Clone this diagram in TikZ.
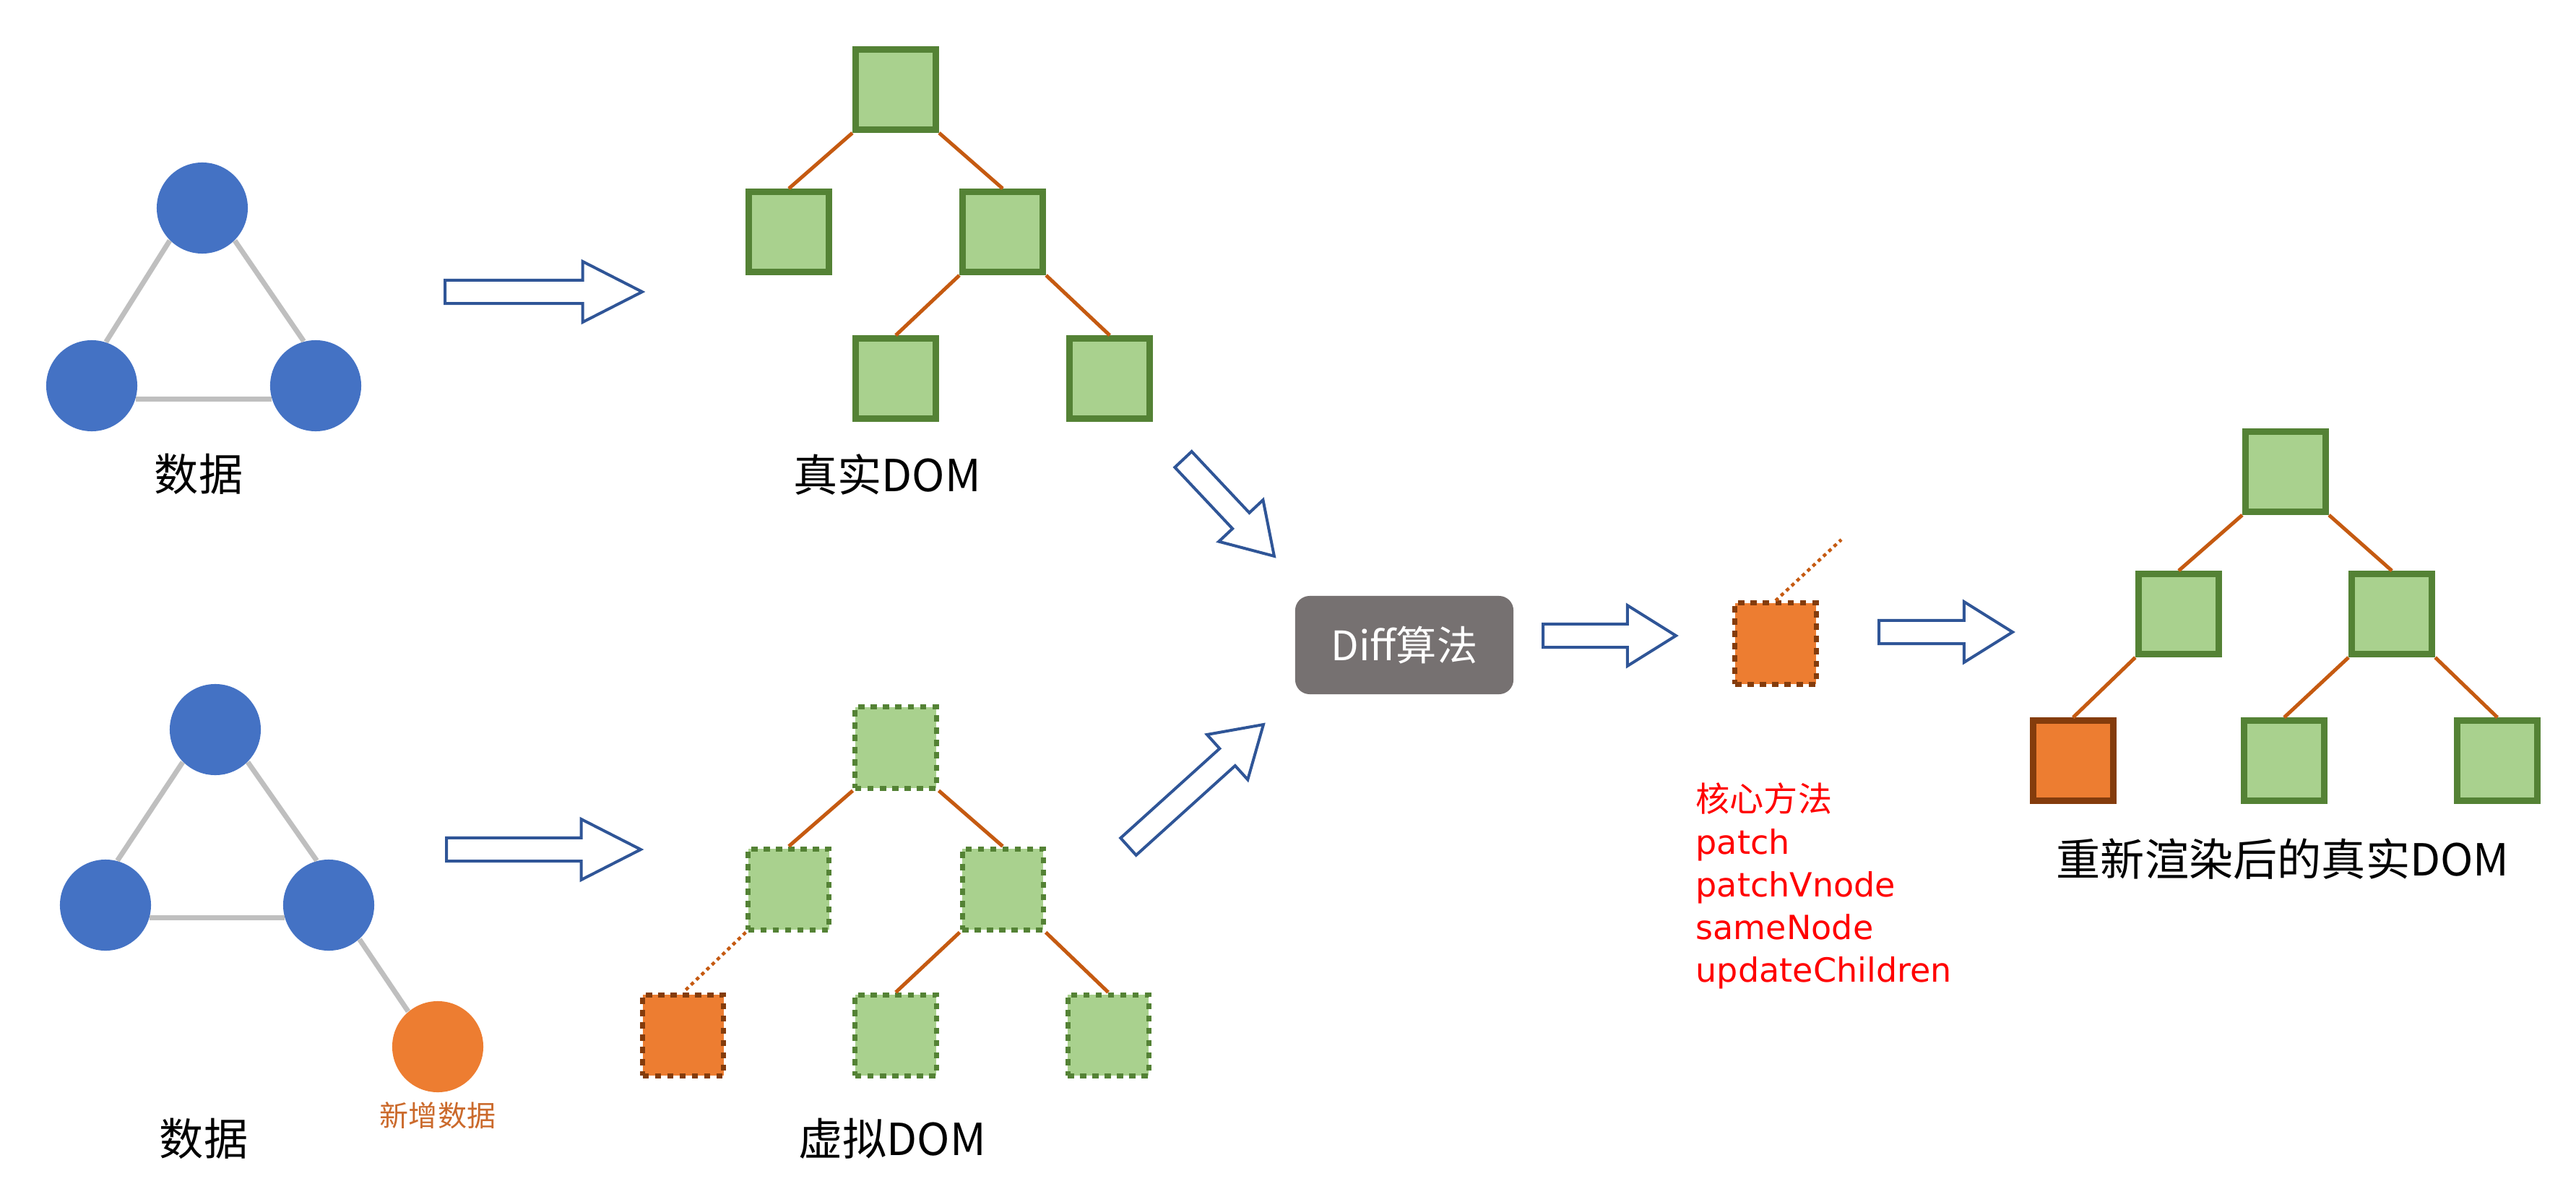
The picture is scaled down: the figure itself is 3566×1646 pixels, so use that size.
\documentclass[tikz,border=0pt]{standalone}
\usepackage{fontspec}
\setmainfont{Noto Sans CJK SC}
\newfontfamily\cjkfont{Noto Sans CJK SC}
\newfontfamily\methodfont{DejaVu Sans}
\usetikzlibrary{positioning,shapes.arrows,calc}

\definecolor{dotblue}{HTML}{4472C4}
\definecolor{neworange}{HTML}{ED7D31}
\definecolor{newtext}{HTML}{CB6A2C}
\definecolor{linkgray}{HTML}{BFBFBF}
\definecolor{sqgreen}{HTML}{548235}
\definecolor{sqfill}{HTML}{A9D18E}
\definecolor{newbrown}{HTML}{843C0C}
\definecolor{branchorange}{HTML}{C55A11}
\definecolor{arrowblue}{HTML}{2F5597}
\definecolor{diffgray}{HTML}{767171}
\definecolor{methodred}{HTML}{FF0000}

\begin{document}
\begin{tikzpicture}[
    x=0.01cm, y=-0.01cm,
    datadot/.style={circle, fill=dotblue, minimum size=1.26cm, inner sep=0pt},
    newdot/.style={datadot, fill=neworange},
    link/.style={draw=linkgray, line width=0.07cm},
    realsq/.style={rectangle, draw=sqgreen, fill=sqfill, line width=0.09cm,
                   minimum size=1.11cm, inner sep=0pt},
    realnew/.style={realsq, draw=newbrown, fill=neworange},
    vsq/.style={rectangle, draw=sqgreen, fill=sqfill, line width=0.07cm,
                dash pattern=on 0.085cm off 0.085cm, minimum size=1.12cm, inner sep=0pt},
    vnew/.style={vsq, draw=newbrown, fill=neworange},
    branch/.style={draw=branchorange, line width=0.05cm},
    newbranch/.style={branch, line width=0.045cm, dash pattern=on 0.05cm off 0.05cm},
    caption/.style={font=\fontsize{17.4}{20}\selectfont, inner sep=0pt},
    newcaption/.style={font=\fontsize{11.4}{13}\selectfont, text=newtext, inner sep=0pt},
    methods/.style={align=left, text=methodred, inner sep=0pt,
                    font=\methodfont\fontsize{13.1}{16.8}\selectfont},
    diffbox/.style={rectangle, rounded corners=0.2cm, fill=diffgray, text=white,
                    minimum width=3.02cm, minimum height=1.36cm,
                    font=\fontsize{16}{18}\selectfont},
    blockarr/.style={single arrow, draw=arrowblue, fill=white, line width=0.04cm,
                     inner sep=0.14cm, outer sep=0pt, single arrow head extend=0.26cm,
                     single arrow tip angle=64, single arrow head indent=0pt},
    longhead/.style={single arrow tip angle=54}
  ]
  \useasboundingbox (0,0) rectangle (3566,1646);

  % ========= data before the update =========
  \node[datadot] (d1top)   at (280,288) {};
  \node[datadot] (d1left)  at (127,534) {};
  \node[datadot] (d1right) at (437,534) {};
  \draw[link] (d1top.225) -- (d1left.72);
  \draw[link] (d1top.315) -- (d1right.105);
  \draw[link] (d1left.-17) -- (d1right.197);
  \node[caption] (d1cap) at (275,656) {数据};

  % ========= data with a new item =========
  \node[datadot] (d2top)   at (298,1010) {};
  \node[datadot] (d2left)  at (146,1253) {};
  \node[datadot] (d2right) at (455,1253) {};
  \node[newdot]  (d2new)   at (606,1449) {};
  \draw[link] (d2top.225) -- (d2left.75);
  \draw[link] (d2top.315) -- (d2right.105);
  \draw[link] (d2left.-16) -- (d2right.196);
  \draw[link] (d2right.312) -- (d2new.130);
  \node[newcaption] (d2newcap) at (606,1544) {新增数据};
  \node[caption] (d2cap) at (282,1576) {数据};

  % ========= real DOM =========
  \node[realsq] (rroot) at (1240,124) {};
  \node[realsq, below=0.77cm of rroot, xshift=-1.48cm] (rl)  {};
  \node[realsq, below=0.77cm of rroot, xshift=1.48cm]  (rr)  {};
  \node[realsq, below=0.83cm of rr, xshift=-1.48cm]    (rrl) {};
  \node[realsq, below=0.83cm of rr, xshift=1.48cm]     (rrr) {};
  \draw[branch] (rroot.south west) -- (rl.north);
  \draw[branch] (rroot.south east) -- (rr.north);
  \draw[branch] (rr.south west) -- (rrl.north);
  \draw[branch] (rr.south east) -- (rrr.north);
  \node[caption] (rcap) at (1228,657) {真实DOM};

  % ========= virtual DOM =========
  \node[vsq] (vroot) at (1240,1035) {};
  \node[vsq, below=0.77cm of vroot, xshift=-1.48cm] (vl)  {};
  \node[vsq, below=0.77cm of vroot, xshift=1.48cm]  (vr)  {};
  \node[vnew, below=0.83cm of vl, xshift=-1.46cm]   (vll) {};
  \node[vsq, below=0.83cm of vr, xshift=-1.48cm]    (vrl) {};
  \node[vsq, below=0.83cm of vr, xshift=1.46cm]     (vrr) {};
  \draw[branch] (vroot.south west) -- (vl.north);
  \draw[branch] (vroot.south east) -- (vr.north);
  \draw[newbranch] (vl.south west) -- (vll.north);
  \draw[branch] (vr.south west) -- (vrl.north);
  \draw[branch] (vr.south east) -- (vrr.north);
  \node[caption] (vcap) at (1235,1576) {虚拟DOM};

  % ========= diff and patch =========
  \node[diffbox] (diff) at (1944,893) {Diff算法};
  \node[vnew] (patch) at (2458,891) {};
  \coordinate (patchup) at (2549,747);
  \draw[newbranch] (patch.north) -- (patchup);
  \node[methods, anchor=north west] (methodlist) at (2347,1083)
    {{\cjkfont\fontsize{13.4}{16.8}\selectfont 核心方法}\\patch\\patchVnode\\sameNode\\updateChildren};

  % ========= re-rendered real DOM =========
  \node[realsq] (nroot) at (3164,653) {};
  \node[realsq, below=0.77cm of nroot, xshift=-1.48cm] (nl)  {};
  \node[realsq, below=0.77cm of nroot, xshift=1.47cm]  (nr)  {};
  \node[realnew, below=0.83cm of nl, xshift=-1.46cm]   (nll) {};
  \node[realsq, below=0.83cm of nr, xshift=-1.49cm]    (nrl) {};
  \node[realsq, below=0.83cm of nr, xshift=1.46cm]     (nrr) {};
  \draw[branch] (nroot.south west) -- (nl.north);
  \draw[branch] (nroot.south east) -- (nr.north);
  \draw[branch] (nl.south west) -- (nll.north);
  \draw[branch] (nr.south west) -- (nrl.north);
  \draw[branch] (nr.south east) -- (nrr.north);
  \node[caption] (ncap) at (3160,1189) {重新渲染后的真实DOM};

  % ========= block arrows =========
  \coordinate (a1t) at (616,404);   \coordinate (a1h) at (889,404);
  \coordinate (a2t) at (618,1176);  \coordinate (a2h) at (887,1176);
  \coordinate (a3t) at (1638,636);  \coordinate (a3h) at (1764,770);
  \coordinate (a4t) at (1562,1172); \coordinate (a4h) at (1749,1003);
  \coordinate (a5t) at (2136,880);  \coordinate (a5h) at (2320,880);
  \coordinate (a6t) at (2601,875);  \coordinate (a6h) at (2786,875);
  \foreach \a/\extra in {a1/longhead, a2/longhead, a3/{}, a4/{}, a5/{}, a6/{}} {
    \path let \p1=($(\a h)-(\a t)$), \n1={veclen(\x1,\y1)} in
      (\a t) -- (\a h) node[blockarr, \extra, pos=0, anchor=tail, sloped,
                            minimum height=\n1] {};
  }

\end{tikzpicture}
\end{document}
